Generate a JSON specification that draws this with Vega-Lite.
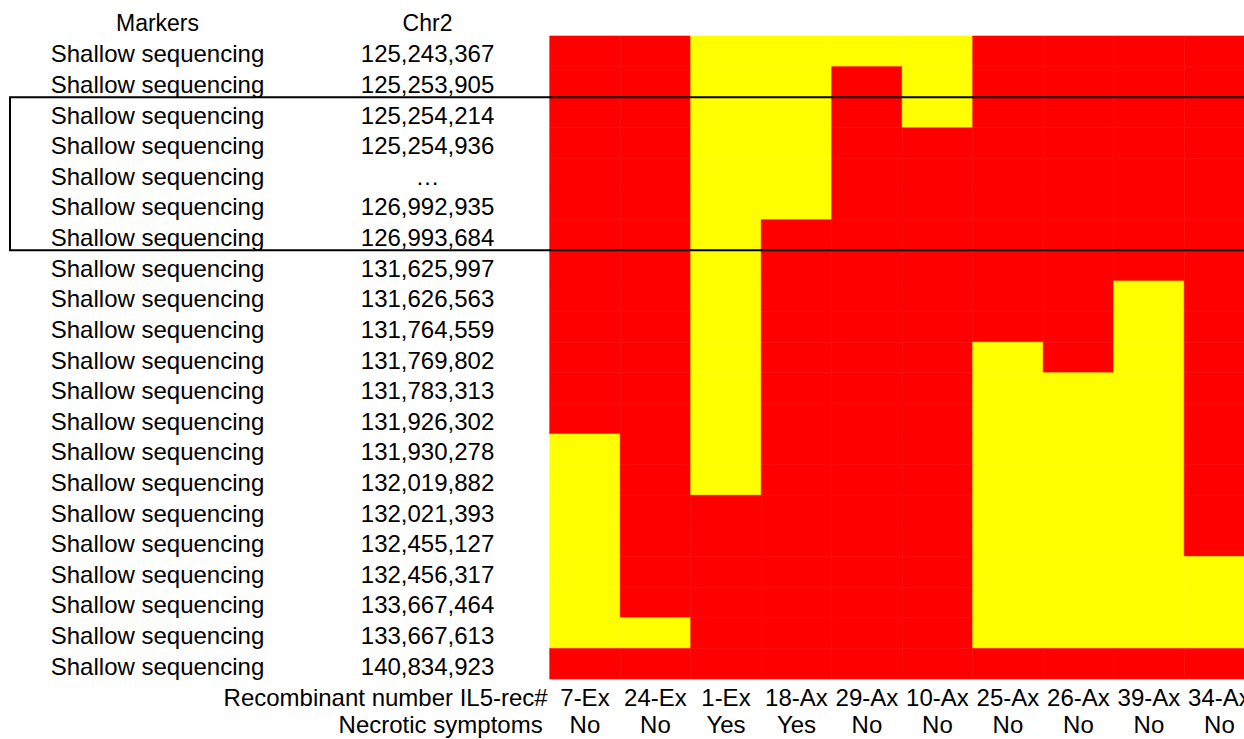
{
  "$schema": "https://vega.github.io/schema/vega-lite/v6.json",
  "width": 1244,
  "height": 739,
  "autosize": {"type": "none"},
  "padding": 0,
  "background": "white",
  "config": {"view": {"stroke": null}, "text": {"font": "Liberation Sans", "fontSize": 24, "color": "#000000"}},
  "datasets": {
    "markers": [
      {"row": 1, "marker": "Shallow sequencing", "chr2": "125,243,367"},
      {"row": 2, "marker": "Shallow sequencing", "chr2": "125,253,905"},
      {"row": 3, "marker": "Shallow sequencing", "chr2": "125,254,214"},
      {"row": 4, "marker": "Shallow sequencing", "chr2": "125,254,936"},
      {"row": 5, "marker": "Shallow sequencing", "chr2": "…"},
      {"row": 6, "marker": "Shallow sequencing", "chr2": "126,992,935"},
      {"row": 7, "marker": "Shallow sequencing", "chr2": "126,993,684"},
      {"row": 8, "marker": "Shallow sequencing", "chr2": "131,625,997"},
      {"row": 9, "marker": "Shallow sequencing", "chr2": "131,626,563"},
      {"row": 10, "marker": "Shallow sequencing", "chr2": "131,764,559"},
      {"row": 11, "marker": "Shallow sequencing", "chr2": "131,769,802"},
      {"row": 12, "marker": "Shallow sequencing", "chr2": "131,783,313"},
      {"row": 13, "marker": "Shallow sequencing", "chr2": "131,926,302"},
      {"row": 14, "marker": "Shallow sequencing", "chr2": "131,930,278"},
      {"row": 15, "marker": "Shallow sequencing", "chr2": "132,019,882"},
      {"row": 16, "marker": "Shallow sequencing", "chr2": "132,021,393"},
      {"row": 17, "marker": "Shallow sequencing", "chr2": "132,455,127"},
      {"row": 18, "marker": "Shallow sequencing", "chr2": "132,456,317"},
      {"row": 19, "marker": "Shallow sequencing", "chr2": "133,667,464"},
      {"row": 20, "marker": "Shallow sequencing", "chr2": "133,667,613"},
      {"row": 21, "marker": "Shallow sequencing", "chr2": "140,834,923"}
    ],
    "samples": [
      {"col": 1, "sample": "7-Ex", "necrotic": "No"},
      {"col": 2, "sample": "24-Ex", "necrotic": "No"},
      {"col": 3, "sample": "1-Ex", "necrotic": "Yes"},
      {"col": 4, "sample": "18-Ax", "necrotic": "Yes"},
      {"col": 5, "sample": "29-Ax", "necrotic": "No"},
      {"col": 6, "sample": "10-Ax", "necrotic": "No"},
      {"col": 7, "sample": "25-Ax", "necrotic": "No"},
      {"col": 8, "sample": "26-Ax", "necrotic": "No"},
      {"col": 9, "sample": "39-Ax", "necrotic": "No"},
      {"col": 10, "sample": "34-Ax", "necrotic": "No"}
    ],
    "cells": [
      {"row":1,"col":1,"geno":"A"},{"row":1,"col":2,"geno":"A"},{"row":1,"col":3,"geno":"B"},{"row":1,"col":4,"geno":"B"},{"row":1,"col":5,"geno":"B"},{"row":1,"col":6,"geno":"B"},{"row":1,"col":7,"geno":"A"},{"row":1,"col":8,"geno":"A"},{"row":1,"col":9,"geno":"A"},{"row":1,"col":10,"geno":"A"},
      {"row":2,"col":1,"geno":"A"},{"row":2,"col":2,"geno":"A"},{"row":2,"col":3,"geno":"B"},{"row":2,"col":4,"geno":"B"},{"row":2,"col":5,"geno":"A"},{"row":2,"col":6,"geno":"B"},{"row":2,"col":7,"geno":"A"},{"row":2,"col":8,"geno":"A"},{"row":2,"col":9,"geno":"A"},{"row":2,"col":10,"geno":"A"},
      {"row":3,"col":1,"geno":"A"},{"row":3,"col":2,"geno":"A"},{"row":3,"col":3,"geno":"B"},{"row":3,"col":4,"geno":"B"},{"row":3,"col":5,"geno":"A"},{"row":3,"col":6,"geno":"B"},{"row":3,"col":7,"geno":"A"},{"row":3,"col":8,"geno":"A"},{"row":3,"col":9,"geno":"A"},{"row":3,"col":10,"geno":"A"},
      {"row":4,"col":1,"geno":"A"},{"row":4,"col":2,"geno":"A"},{"row":4,"col":3,"geno":"B"},{"row":4,"col":4,"geno":"B"},{"row":4,"col":5,"geno":"A"},{"row":4,"col":6,"geno":"A"},{"row":4,"col":7,"geno":"A"},{"row":4,"col":8,"geno":"A"},{"row":4,"col":9,"geno":"A"},{"row":4,"col":10,"geno":"A"},
      {"row":5,"col":1,"geno":"A"},{"row":5,"col":2,"geno":"A"},{"row":5,"col":3,"geno":"B"},{"row":5,"col":4,"geno":"B"},{"row":5,"col":5,"geno":"A"},{"row":5,"col":6,"geno":"A"},{"row":5,"col":7,"geno":"A"},{"row":5,"col":8,"geno":"A"},{"row":5,"col":9,"geno":"A"},{"row":5,"col":10,"geno":"A"},
      {"row":6,"col":1,"geno":"A"},{"row":6,"col":2,"geno":"A"},{"row":6,"col":3,"geno":"B"},{"row":6,"col":4,"geno":"B"},{"row":6,"col":5,"geno":"A"},{"row":6,"col":6,"geno":"A"},{"row":6,"col":7,"geno":"A"},{"row":6,"col":8,"geno":"A"},{"row":6,"col":9,"geno":"A"},{"row":6,"col":10,"geno":"A"},
      {"row":7,"col":1,"geno":"A"},{"row":7,"col":2,"geno":"A"},{"row":7,"col":3,"geno":"B"},{"row":7,"col":4,"geno":"A"},{"row":7,"col":5,"geno":"A"},{"row":7,"col":6,"geno":"A"},{"row":7,"col":7,"geno":"A"},{"row":7,"col":8,"geno":"A"},{"row":7,"col":9,"geno":"A"},{"row":7,"col":10,"geno":"A"},
      {"row":8,"col":1,"geno":"A"},{"row":8,"col":2,"geno":"A"},{"row":8,"col":3,"geno":"B"},{"row":8,"col":4,"geno":"A"},{"row":8,"col":5,"geno":"A"},{"row":8,"col":6,"geno":"A"},{"row":8,"col":7,"geno":"A"},{"row":8,"col":8,"geno":"A"},{"row":8,"col":9,"geno":"A"},{"row":8,"col":10,"geno":"A"},
      {"row":9,"col":1,"geno":"A"},{"row":9,"col":2,"geno":"A"},{"row":9,"col":3,"geno":"B"},{"row":9,"col":4,"geno":"A"},{"row":9,"col":5,"geno":"A"},{"row":9,"col":6,"geno":"A"},{"row":9,"col":7,"geno":"A"},{"row":9,"col":8,"geno":"A"},{"row":9,"col":9,"geno":"B"},{"row":9,"col":10,"geno":"A"},
      {"row":10,"col":1,"geno":"A"},{"row":10,"col":2,"geno":"A"},{"row":10,"col":3,"geno":"B"},{"row":10,"col":4,"geno":"A"},{"row":10,"col":5,"geno":"A"},{"row":10,"col":6,"geno":"A"},{"row":10,"col":7,"geno":"A"},{"row":10,"col":8,"geno":"A"},{"row":10,"col":9,"geno":"B"},{"row":10,"col":10,"geno":"A"},
      {"row":11,"col":1,"geno":"A"},{"row":11,"col":2,"geno":"A"},{"row":11,"col":3,"geno":"B"},{"row":11,"col":4,"geno":"A"},{"row":11,"col":5,"geno":"A"},{"row":11,"col":6,"geno":"A"},{"row":11,"col":7,"geno":"B"},{"row":11,"col":8,"geno":"A"},{"row":11,"col":9,"geno":"B"},{"row":11,"col":10,"geno":"A"},
      {"row":12,"col":1,"geno":"A"},{"row":12,"col":2,"geno":"A"},{"row":12,"col":3,"geno":"B"},{"row":12,"col":4,"geno":"A"},{"row":12,"col":5,"geno":"A"},{"row":12,"col":6,"geno":"A"},{"row":12,"col":7,"geno":"B"},{"row":12,"col":8,"geno":"B"},{"row":12,"col":9,"geno":"B"},{"row":12,"col":10,"geno":"A"},
      {"row":13,"col":1,"geno":"A"},{"row":13,"col":2,"geno":"A"},{"row":13,"col":3,"geno":"B"},{"row":13,"col":4,"geno":"A"},{"row":13,"col":5,"geno":"A"},{"row":13,"col":6,"geno":"A"},{"row":13,"col":7,"geno":"B"},{"row":13,"col":8,"geno":"B"},{"row":13,"col":9,"geno":"B"},{"row":13,"col":10,"geno":"A"},
      {"row":14,"col":1,"geno":"B"},{"row":14,"col":2,"geno":"A"},{"row":14,"col":3,"geno":"B"},{"row":14,"col":4,"geno":"A"},{"row":14,"col":5,"geno":"A"},{"row":14,"col":6,"geno":"A"},{"row":14,"col":7,"geno":"B"},{"row":14,"col":8,"geno":"B"},{"row":14,"col":9,"geno":"B"},{"row":14,"col":10,"geno":"A"},
      {"row":15,"col":1,"geno":"B"},{"row":15,"col":2,"geno":"A"},{"row":15,"col":3,"geno":"B"},{"row":15,"col":4,"geno":"A"},{"row":15,"col":5,"geno":"A"},{"row":15,"col":6,"geno":"A"},{"row":15,"col":7,"geno":"B"},{"row":15,"col":8,"geno":"B"},{"row":15,"col":9,"geno":"B"},{"row":15,"col":10,"geno":"A"},
      {"row":16,"col":1,"geno":"B"},{"row":16,"col":2,"geno":"A"},{"row":16,"col":3,"geno":"A"},{"row":16,"col":4,"geno":"A"},{"row":16,"col":5,"geno":"A"},{"row":16,"col":6,"geno":"A"},{"row":16,"col":7,"geno":"B"},{"row":16,"col":8,"geno":"B"},{"row":16,"col":9,"geno":"B"},{"row":16,"col":10,"geno":"A"},
      {"row":17,"col":1,"geno":"B"},{"row":17,"col":2,"geno":"A"},{"row":17,"col":3,"geno":"A"},{"row":17,"col":4,"geno":"A"},{"row":17,"col":5,"geno":"A"},{"row":17,"col":6,"geno":"A"},{"row":17,"col":7,"geno":"B"},{"row":17,"col":8,"geno":"B"},{"row":17,"col":9,"geno":"B"},{"row":17,"col":10,"geno":"A"},
      {"row":18,"col":1,"geno":"B"},{"row":18,"col":2,"geno":"A"},{"row":18,"col":3,"geno":"A"},{"row":18,"col":4,"geno":"A"},{"row":18,"col":5,"geno":"A"},{"row":18,"col":6,"geno":"A"},{"row":18,"col":7,"geno":"B"},{"row":18,"col":8,"geno":"B"},{"row":18,"col":9,"geno":"B"},{"row":18,"col":10,"geno":"B"},
      {"row":19,"col":1,"geno":"B"},{"row":19,"col":2,"geno":"A"},{"row":19,"col":3,"geno":"A"},{"row":19,"col":4,"geno":"A"},{"row":19,"col":5,"geno":"A"},{"row":19,"col":6,"geno":"A"},{"row":19,"col":7,"geno":"B"},{"row":19,"col":8,"geno":"B"},{"row":19,"col":9,"geno":"B"},{"row":19,"col":10,"geno":"B"},
      {"row":20,"col":1,"geno":"B"},{"row":20,"col":2,"geno":"B"},{"row":20,"col":3,"geno":"A"},{"row":20,"col":4,"geno":"A"},{"row":20,"col":5,"geno":"A"},{"row":20,"col":6,"geno":"A"},{"row":20,"col":7,"geno":"B"},{"row":20,"col":8,"geno":"B"},{"row":20,"col":9,"geno":"B"},{"row":20,"col":10,"geno":"B"},
      {"row":21,"col":1,"geno":"A"},{"row":21,"col":2,"geno":"A"},{"row":21,"col":3,"geno":"A"},{"row":21,"col":4,"geno":"A"},{"row":21,"col":5,"geno":"A"},{"row":21,"col":6,"geno":"A"},{"row":21,"col":7,"geno":"A"},{"row":21,"col":8,"geno":"A"},{"row":21,"col":9,"geno":"A"},{"row":21,"col":10,"geno":"A"}
    ]
  },
  "layer": [
    {
      "data": {"name": "cells"},
      "mark": {"type": "rect", "width": 70.5, "height": 30.62, "strokeWidth": 0.6},
      "encoding": {
        "x": {"field": "col", "type": "quantitative", "scale": {"domain": [-7.297, 10.348], "nice": false, "zero": false}, "axis": null},
        "y": {"field": "row", "type": "quantitative", "scale": {"domain": [-0.676, 23.459], "reverse": true, "nice": false, "zero": false}, "axis": null},
        "color": {"field": "geno", "type": "nominal", "scale": {"domain": ["A", "B"], "range": ["#ff0000", "#ffff00"]}, "legend": null},
        "stroke": {"field": "geno", "type": "nominal", "scale": {"domain": ["A", "B"], "range": ["#ff0000", "#ffff00"]}, "legend": null}
      }
    },
    {
      "data": {"values": [{}]},
      "mark": {"type": "rect", "fill": null, "stroke": "#000000", "strokeWidth": 2},
      "encoding": {
        "x": {"datum": -7.155, "type": "quantitative", "scale": {"domain": [-7.297, 10.348], "nice": false, "zero": false}},
        "x2": {"datum": 10.6},
        "y": {"datum": 2.5, "type": "quantitative", "scale": {"domain": [-0.676, 23.459], "reverse": true, "nice": false, "zero": false}},
        "y2": {"datum": 7.5}
      }
    },
    {
      "data": {"name": "markers"},
      "mark": {"type": "text", "align": "center", "baseline": "alphabetic", "dy": 11},
      "encoding": {
        "x": {"datum": -5.063, "type": "quantitative", "scale": {"domain": [-7.297, 10.348], "nice": false, "zero": false}},
        "y": {"field": "row", "type": "quantitative", "scale": {"domain": [-0.676, 23.459], "reverse": true, "nice": false, "zero": false}},
        "text": {"field": "marker"}
      }
    },
    {
      "data": {"name": "markers"},
      "mark": {"type": "text", "align": "center", "baseline": "alphabetic", "dy": 11},
      "encoding": {
        "x": {"datum": -1.233, "type": "quantitative", "scale": {"domain": [-7.297, 10.348], "nice": false, "zero": false}},
        "y": {"field": "row", "type": "quantitative", "scale": {"domain": [-0.676, 23.459], "reverse": true, "nice": false, "zero": false}},
        "text": {"field": "chr2"}
      }
    },
    {
      "data": {"values": [{}]},
      "mark": {"type": "text", "align": "center", "baseline": "alphabetic", "dy": 10, "fontSize": 23},
      "encoding": {
        "x": {"datum": -5.063, "type": "quantitative", "scale": {"domain": [-7.297, 10.348], "nice": false, "zero": false}},
        "y": {"datum": 0, "type": "quantitative", "scale": {"domain": [-0.676, 23.459], "reverse": true, "nice": false, "zero": false}},
        "text": {"value": "Markers"}
      }
    },
    {
      "data": {"values": [{}]},
      "mark": {"type": "text", "align": "center", "baseline": "alphabetic", "dy": 10, "fontSize": 23},
      "encoding": {
        "x": {"datum": -1.233, "type": "quantitative", "scale": {"domain": [-7.297, 10.348], "nice": false, "zero": false}},
        "y": {"datum": 0, "type": "quantitative", "scale": {"domain": [-0.676, 23.459], "reverse": true, "nice": false, "zero": false}},
        "text": {"value": "Chr2"}
      }
    },
    {
      "data": {"name": "samples"},
      "mark": {"type": "text", "align": "center", "baseline": "alphabetic", "dy": 11.5},
      "encoding": {
        "x": {"field": "col", "type": "quantitative", "scale": {"domain": [-7.297, 10.348], "nice": false, "zero": false}},
        "y": {"datum": 22, "type": "quantitative", "scale": {"domain": [-0.676, 23.459], "reverse": true, "nice": false, "zero": false}},
        "text": {"field": "sample"}
      }
    },
    {
      "data": {"name": "samples"},
      "mark": {"type": "text", "align": "center", "baseline": "alphabetic", "dy": 8},
      "encoding": {
        "x": {"field": "col", "type": "quantitative", "scale": {"domain": [-7.297, 10.348], "nice": false, "zero": false}},
        "y": {"datum": 23, "type": "quantitative", "scale": {"domain": [-0.676, 23.459], "reverse": true, "nice": false, "zero": false}},
        "text": {"field": "necrotic"}
      }
    },
    {
      "data": {"values": [{}]},
      "mark": {"type": "text", "align": "right", "baseline": "alphabetic", "dy": 11.5},
      "encoding": {
        "x": {"datum": 0.472, "type": "quantitative", "scale": {"domain": [-7.297, 10.348], "nice": false, "zero": false}},
        "y": {"datum": 22, "type": "quantitative", "scale": {"domain": [-0.676, 23.459], "reverse": true, "nice": false, "zero": false}},
        "text": {"value": "Recombinant number IL5-rec#"}
      }
    },
    {
      "data": {"values": [{}]},
      "mark": {"type": "text", "align": "right", "baseline": "alphabetic", "dy": 8},
      "encoding": {
        "x": {"datum": 0.4, "type": "quantitative", "scale": {"domain": [-7.297, 10.348], "nice": false, "zero": false}},
        "y": {"datum": 23, "type": "quantitative", "scale": {"domain": [-0.676, 23.459], "reverse": true, "nice": false, "zero": false}},
        "text": {"value": "Necrotic symptoms"}
      }
    }
  ]
}
